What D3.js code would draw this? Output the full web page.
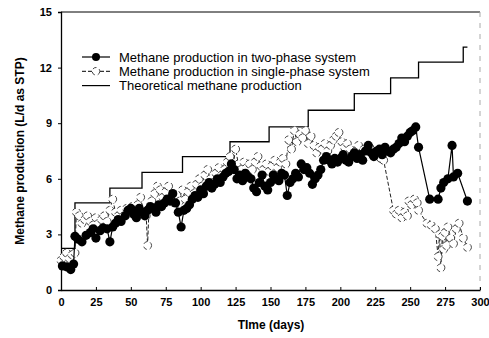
<!DOCTYPE html>
<html>
<head>
<meta charset="utf-8">
<script src="https://cdn.jsdelivr.net/npm/d3@7"></script>
<style>
  body { margin: 0; background: #fff; }
  svg { font-family: Arial, "Liberation Sans", sans-serif; }
</style>
</head>
<body>
<script>
// theoretical production (step line)
var stepDays = [0, 10, 35, 58, 87, 121, 149, 177, 210, 236, 256, 288, 291];
var stepVals = [2.25, 4.7, 5.5, 6.35, 7.2, 8.0, 8.8, 9.7, 10.6, 11.45, 12.3, 13.1, 13.1];

// two-phase system
var twoDays = [1,4,7,9,10,12,15,18,21,23,25,28,30,33,35,37,39,41,43,46,48,50,52,54,56,58,60,62,64,66,68,70,72,74,76,78,80,82,84,86,88,90,92,94,96,98,100,102,104,106,108,110,112,114,116,118,120,122,124,126,128,130,132,134,136,138,140,142,144,146,148,150,152,154,156,158,160,162,164,166,168,170,172,174,176,178,180,182,184,186,188,190,192,194,196,198,200,202,204,206,208,210,212,214,216,218,220,222,224,226,228,230,232,234,236,238,240,242,244,246,248,250,252,254,256,264,270,272,274,277,280,281,284,291];
var twoVals = [1.3,1.25,1.1,1.4,2.9,2.75,2.6,2.95,3.1,3.3,2.8,3.2,3.35,3.3,2.6,3.4,3.6,3.8,3.7,4.0,4.3,4.4,4.1,3.9,4.4,4.2,4.0,4.3,4.5,4.4,4.2,4.6,4.5,4.7,4.9,4.8,5.2,4.7,4.2,3.4,4.3,4.4,4.6,4.9,5.1,5.0,5.4,5.2,5.6,5.8,5.5,5.7,6.0,5.8,6.1,6.3,6.4,6.8,6.5,6.0,6.2,5.9,6.3,6.1,6.0,5.5,5.3,5.8,6.2,5.6,5.4,5.8,6.2,6.0,5.9,6.3,6.2,5.1,5.8,6.0,6.3,6.1,6.8,6.5,6.6,6.3,5.7,6.0,6.2,6.5,7.0,7.2,7.0,6.8,7.1,6.9,7.1,7.3,7.0,6.9,7.2,7.4,7.1,7.3,7.0,7.5,7.8,7.4,7.2,7.5,7.6,7.3,7.7,7.5,7.4,7.6,7.7,7.9,8.2,8.0,8.3,8.5,8.6,8.8,7.7,4.9,4.9,5.5,5.8,6.0,7.8,6.1,6.3,4.8];

// single-phase system
var oneDays = [0,2,4,6,8,10,11,13,15,17,19,21,23,25,27,29,31,33,35,37,39,41,43,45,47,49,51,53,55,57,59,61,62,63,65,67,69,71,73,75,77,79,81,83,85,87,89,91,93,95,97,99,101,103,105,107,109,111,113,115,117,119,121,123,125,127,129,131,133,135,137,139,141,143,145,147,149,151,153,155,157,159,161,163,165,167,169,171,173,175,177,179,181,183,185,187,189,191,193,195,197,199,201,203,205,207,209,211,213,215,217,219,221,223,225,227,229,231,238,240,242,244,246,248,249,251,253,255,256,262,265,268,270,271,272,273,274,275,276,277,279,281,283,285,288,291];
var oneVals = [1.6,1.8,2.0,1.7,1.9,2.0,4.2,4.0,3.6,3.8,4.0,3.7,3.5,3.9,3.6,3.8,4.0,3.7,4.3,4.9,4.2,4.0,4.3,4.0,4.4,4.2,4.5,4.0,4.6,5.0,4.3,4.0,2.4,4.4,4.8,5.2,5.6,5.4,5.0,5.3,5.6,5.0,4.7,5.1,4.8,5.4,4.9,5.3,5.6,5.2,5.7,6.0,5.6,6.2,6.5,6.0,5.8,6.3,6.6,6.2,6.5,6.9,7.2,6.6,7.6,6.8,6.5,6.9,6.6,6.8,6.5,6.9,7.2,6.7,6.5,6.8,6.4,6.7,7.0,6.6,6.9,7.1,6.8,8.1,7.6,8.6,8.0,8.4,8.2,8.6,7.9,8.3,7.8,7.4,7.7,7.6,7.9,7.5,7.8,8.1,8.3,8.5,8.0,7.7,7.9,7.6,7.3,7.5,7.8,7.4,7.6,7.3,7.7,7.5,7.3,7.4,7.1,7.0,4.3,4.1,4.3,3.9,4.2,4.0,4.8,4.6,4.9,4.7,4.3,3.6,3.5,3.3,1.8,3.0,1.2,2.9,2.2,3.1,2.4,3.4,2.8,2.5,3.3,3.6,2.8,2.3];

var xTicks = [0, 25, 50, 75, 100, 125, 150, 175, 200, 225, 250, 275, 300];
var yTicks = [0, 3, 6, 9, 12, 15];
var legendLabels = ["Methane production in two-phase system",
                    "Methane production in single-phase system",
                    "Theoretical methane production"];

var W = 489, H = 338;
var svg = d3.select("body").append("svg").attr("width", W).attr("height", H);

var x = d3.scaleLinear().domain([0, 300]).range([61, 480]);
var y = d3.scaleLinear().domain([0, 15]).range([290, 12]);

// frame: top solid, right grey dashed
svg.append("line").attr("x1", x(0)).attr("x2", x(300)).attr("y1", y(15)).attr("y2", y(15))
  .attr("stroke", "#000").attr("stroke-width", 1);
svg.append("line").attr("x1", x(300)).attr("x2", x(300)).attr("y1", y(15)).attr("y2", y(0))
  .attr("stroke", "#aaa").attr("stroke-width", 1).attr("stroke-dasharray", "5,6");

var xAxis = svg.append("g").attr("transform", "translate(0," + y(0) + ")")
  .call(d3.axisBottom(x).tickValues(xTicks).tickSizeInner(-3).tickSizeOuter(0).tickPadding(8));
var yAxis = svg.append("g").attr("transform", "translate(" + x(0) + ",0)")
  .call(d3.axisLeft(y).tickValues(yTicks).tickSize(3).tickPadding(6));
[xAxis, yAxis].forEach(function(a) {
  a.selectAll("path").attr("stroke", "#000").attr("stroke-width", 1.3);
  a.selectAll("line").attr("stroke", "#000");
  a.selectAll("text").attr("font-size", "11px").attr("font-weight", "bold")
    .attr("font-family", "Arial, 'Liberation Sans', sans-serif").attr("fill", "#000");
});

svg.append("text").attr("x", 271).attr("y", 329).attr("text-anchor", "middle")
  .attr("font-size", "12px").attr("font-weight", "bold").text("TIme (days)");
svg.append("text").attr("transform", "translate(24,151) rotate(-90)").attr("text-anchor", "middle")
  .attr("font-size", "12px").attr("font-weight", "bold").text("Methane production (L/d as STP)");

// theoretical step line
var steps = stepDays.map(function(d, i) { return [d, stepVals[i]]; });
svg.append("path").datum(steps)
  .attr("d", d3.line().x(function(d) { return x(d[0]); }).y(function(d) { return y(d[1]); }).curve(d3.curveStepAfter))
  .attr("fill", "none").attr("stroke", "#000").attr("stroke-width", 1.3);

var line = d3.line().x(function(d) { return x(d[0]); }).y(function(d) { return y(d[1]); });

// single-phase
var one = oneDays.map(function(d, i) { return [d, oneVals[i]]; });
svg.append("path").datum(one).attr("d", line)
  .attr("fill", "none").attr("stroke", "#222").attr("stroke-width", 1).attr("stroke-dasharray", "4,2");
svg.selectAll("circle.one").data(one).enter().append("circle").attr("class", "one")
  .attr("cx", function(d) { return x(d[0]); }).attr("cy", function(d) { return y(d[1]); })
  .attr("r", 4).attr("fill", "#fff").attr("stroke", "#333").attr("stroke-width", 0.9)
  .attr("stroke-dasharray", "4,3");

// two-phase
var two = twoDays.map(function(d, i) { return [d, twoVals[i]]; });
svg.append("path").datum(two).attr("d", line)
  .attr("fill", "none").attr("stroke", "#000").attr("stroke-width", 1.2);
svg.selectAll("circle.two").data(two).enter().append("circle").attr("class", "two")
  .attr("cx", function(d) { return x(d[0]); }).attr("cy", function(d) { return y(d[1]); })
  .attr("r", 4.6).attr("fill", "#000");

// legend
var leg = svg.append("g");
legendLabels.forEach(function(t, i) {
  var ly = 57 + i * 14.3;
  var l = leg.append("line").attr("x1", 82).attr("x2", 110).attr("y1", ly).attr("y2", ly)
    .attr("stroke", "#000").attr("stroke-width", 1.2);
  if (i == 0) leg.append("circle").attr("cx", 96).attr("cy", ly).attr("r", 4).attr("fill", "#000");
  if (i == 1) {
    l.attr("stroke-dasharray", "4,2").attr("stroke-width", 1);
    leg.append("circle").attr("cx", 96).attr("cy", ly).attr("r", 3.8).attr("fill", "#fff")
      .attr("stroke", "#333").attr("stroke-width", 0.9).attr("stroke-dasharray", "4,3");
  }
  leg.append("text").attr("x", 119).attr("y", ly + 4.5).attr("font-size", "13px").text(t);
});
</script>
</body>
</html>
